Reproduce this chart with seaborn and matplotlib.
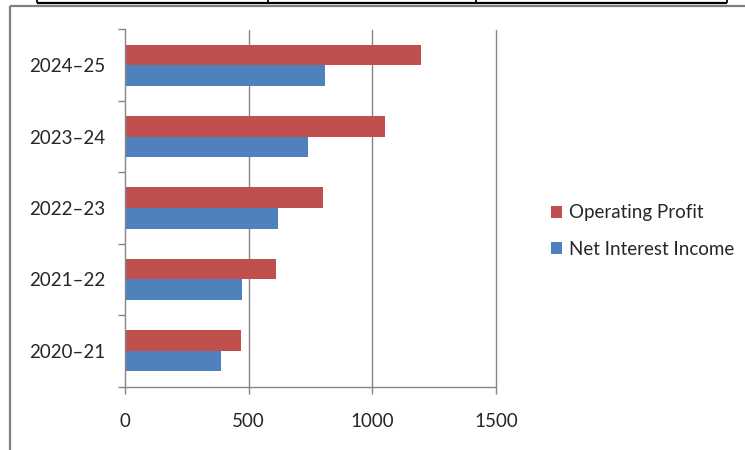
import matplotlib
matplotlib.use("Agg")
import matplotlib.pyplot as plt
from matplotlib.lines import Line2D
import seaborn as sns
import pandas as pd

categories = ["2024–25", "2023–24", "2022–23", "2021–22", "2020–21"]
operating_profit = [1195, 1050, 800, 610, 470]
net_interest_income = [810, 740, 620, 475, 390]
series_names = ["Operating Profit", "Net Interest Income"]
x_ticks = [0, 500, 1000, 1500]

df = pd.DataFrame({
    "Year": categories * 2,
    "Value": operating_profit + net_interest_income,
    "Series": [series_names[0]] * len(categories) + [series_names[1]] * len(categories),
})

sns.set_theme(style="white")
plt.rcParams["font.family"] = ["Lato", "DejaVu Sans"]

fig = plt.figure(figsize=(7.45, 4.5), dpi=100)
ax = fig.add_axes([125 / 745, 1 - 386.5 / 450, (496 - 125) / 745, (386.5 - 29.5) / 450])

gray = "#868686"
ax.set_axisbelow(True)
for xv in x_ticks[1:]:
    ax.axvline(xv, color=gray, lw=1.0, zorder=0, clip_on=False)

sns.barplot(data=df, y="Year", x="Value", hue="Series", order=categories,
            hue_order=series_names, palette=["#C0504D", "#4F81BD"],
            orient="h", width=0.575, gap=0, saturation=1, ax=ax,
            edgecolor="none", linewidth=0)

ax.set_xlim(0, 1500)
ax.set_ylim(len(categories) - 0.5, -0.5)
ax.set_xticks(x_ticks)
ax.set_xticklabels([str(v) for v in x_ticks])
ax.set_yticks(range(len(categories)))
ax.set_yticklabels(categories)
ax.set_yticks([i - 0.5 for i in range(len(categories) + 1)], minor=True)
ax.tick_params(axis="y", which="major", length=0, pad=14, labelsize=13.5, colors="#262626")
ax.tick_params(axis="y", which="minor", length=5, width=1, color=gray, direction="out", left=True)
ax.tick_params(axis="x", which="major", length=5, width=1, color=gray, direction="out",
               pad=14, labelsize=13.5, labelcolor="#262626", bottom=True)
ax.set_xlabel("")
ax.set_ylabel("")

for s in ["top", "right"]:
    ax.spines[s].set_visible(False)
for s in ["left", "bottom"]:
    ax.spines[s].set_color(gray)
    ax.spines[s].set_linewidth(1.0)

handles, labels = ax.get_legend_handles_labels()
leg = ax.legend(handles, labels, loc="center left", bbox_to_anchor=(551 / 745, 1 - 231 / 450),
                bbox_transform=fig.transFigure, frameon=False, fontsize=13.5,
                handlelength=0.6, handleheight=0.6, handletextpad=0.35, labelspacing=1.05,
                borderpad=0, borderaxespad=0)
for t in leg.get_texts():
    t.set_color("#262626")

# chart area border (left and top) and cut-off table line above
def fig_line(x0, y0, x1, y1, color, lw):
    fig.add_artist(Line2D([x0 / 745, x1 / 745], [1 - y0 / 450, 1 - y1 / 450],
                          transform=fig.transFigure, color=color, lw=lw, solid_capstyle="butt"))

fig_line(10, 6, 745, 6, "#7f7f7f", 1.6)
fig_line(10, 6, 10, 450, "#7f7f7f", 1.6)
fig_line(37, 2.5, 727, 2.5, "black", 1.6)
for xv in [37, 268, 476, 727]:
    fig_line(xv, 0, xv, 3, "black", 1.3)

fig.savefig("out.png", dpi=100)
